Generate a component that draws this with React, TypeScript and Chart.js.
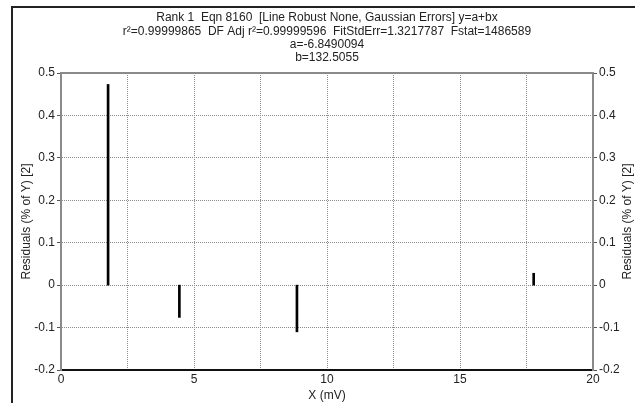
import React, { useEffect, useRef } from "react";
import { Chart, registerables } from "chart.js";

Chart.register(...registerables);

const xValues = [1.77, 4.45, 8.87, 17.77];
const residuals = [0.473, -0.076, -0.11, 0.028];
const titleLines = [
  "Rank 1  Eqn 8160  [Line Robust None, Gaussian Errors] y=a+bx",
  "r²=0.99999865  DF Adj r²=0.99999596  FitStdErr=1.3217787  Fstat=1486589",
  "a=-6.8490094",
  "b=132.5055",
];
const xTitle = "X (mV)";
const yTitle = "Residuals (% of Y) [2]";
const X_MIN = 0, X_MAX = 20, X_STEP = 2.5;
const Y_MIN = -0.2, Y_MAX = 0.5, Y_STEP = 0.1;

const FONT = "'Liberation Sans', Arial, sans-serif";
const TEXT = "#222";

const fmtY = (v: number) => String(Math.round(v * 10) / 10);

const decorPlugin = {
  id: "decor",
  beforeDraw(chart: any) {
    const ctx = chart.ctx;
    ctx.save();
    ctx.fillStyle = "#fff";
    ctx.fillRect(0, 0, chart.width, chart.height);
    ctx.restore();
  },
  afterDraw(chart: any) {
    const { ctx, chartArea } = chart;
    ctx.save();
    // outer frame
    ctx.strokeStyle = "#222";
    ctx.lineWidth = 2;
    ctx.beginPath();
    ctx.moveTo(12, chart.height);
    ctx.lineTo(12, 7);
    ctx.lineTo(635, 7);
    ctx.stroke();
    // top border of plot
    ctx.strokeStyle = "#8a8a8a";
    ctx.lineWidth = 2;
    ctx.beginPath();
    ctx.moveTo(chartArea.left, chartArea.top);
    ctx.lineTo(chartArea.right, chartArea.top);
    ctx.stroke();
    // title lines
    ctx.fillStyle = TEXT;
    ctx.font = `12px ${FONT}`;
    ctx.textAlign = "center";
    ctx.textBaseline = "middle";
    const cx = (chartArea.left + chartArea.right) / 2;
    const ys = [18, 31.5, 45, 58];
    titleLines.forEach((t, i) => ctx.fillText(t, cx, ys[i]));
    // axis titles (both bottom-to-top)
    const cy = (chartArea.top + chartArea.bottom) / 2;
    ctx.save();
    ctx.translate(27, cy);
    ctx.rotate(-Math.PI / 2);
    ctx.fillText(yTitle, 0, 0);
    ctx.restore();
    ctx.save();
    ctx.translate(628, cy);
    ctx.rotate(-Math.PI / 2);
    ctx.fillText(yTitle, 0, 0);
    ctx.restore();
    ctx.restore();
  },
};

export default function App() {
  const ref = useRef<HTMLCanvasElement>(null);
  useEffect(() => {
    if (!ref.current) return;
    const gridColor = (c: any) => {
      const v = c.tick ? c.tick.value : null;
      if (v === null) return "#999";
      if (Math.abs(v - Y_MIN) < 1e-9 || Math.abs(v - Y_MAX) < 1e-9) return "rgba(0,0,0,0)";
      return "#8c8c8c";
    };
    const xGridColor = (c: any) => {
      const v = c.tick ? c.tick.value : null;
      if (v === null) return "#999";
      if (Math.abs(v - X_MIN) < 1e-9 || Math.abs(v - X_MAX) < 1e-9) return "rgba(0,0,0,0)";
      return "#8c8c8c";
    };
    const chart = new Chart(ref.current, {
      type: "bar",
      data: {
        datasets: [
          {
            data: xValues.map((x, i) => ({ x, y: residuals[i] })),
            backgroundColor: "#000",
            borderWidth: 0,
            barThickness: 2,
            yAxisID: "y",
          },
        ],
      },
      plugins: [decorPlugin],
      options: {
        responsive: false,
        animation: false,
        events: [],
        layout: { padding: { top: 73, left: 0, right: 0, bottom: 0 } },
        plugins: { legend: { display: false }, tooltip: { enabled: false }, title: { display: false } },
        scales: {
          x: {
            type: "linear",
            min: X_MIN,
            max: X_MAX,
            offset: false,
            afterFit: (s: any) => { s.height = 33; },
            grid: { offset: false, color: xGridColor, drawTicks: false, lineWidth: 1 },
            border: { display: true, color: "#111", width: 2, dash: [1, 1] },
            ticks: {
              stepSize: X_STEP,
              autoSkip: false,
              maxRotation: 0,
              padding: 2,
              color: TEXT,
              font: { family: FONT, size: 12 },
              callback: (v: any) => (Math.abs(v % 5) < 1e-9 ? String(v) : ""),
            },
            title: { display: true, text: xTitle, color: TEXT, font: { family: FONT, size: 12 }, padding: { top: 0, bottom: 0 } },
          },
          y: {
            type: "linear",
            position: "left",
            min: Y_MIN,
            max: Y_MAX,
            afterFit: (s: any) => { s.width = 61; },
            grid: { color: gridColor, tickColor: "#555", tickLength: 4, lineWidth: 1 },
            border: { display: true, color: "#8a8a8a", width: 2, dash: [1, 1] },
            ticks: {
              stepSize: Y_STEP,
              autoSkip: false,
              padding: 2,
              color: TEXT,
              font: { family: FONT, size: 12 },
              callback: (v: any) => fmtY(v),
            },
          },
          y2: {
            type: "linear",
            position: "right",
            min: Y_MIN,
            max: Y_MAX,
            afterFit: (s: any) => { s.width = 46; },
            grid: { drawOnChartArea: false, tickColor: "#555", tickLength: 4 },
            border: { display: true, color: "#8a8a8a", width: 2 },
            ticks: {
              stepSize: Y_STEP,
              autoSkip: false,
              padding: 2,
              color: TEXT,
              font: { family: FONT, size: 12 },
              callback: (v: any) => fmtY(v),
            },
          },
        },
      },
    } as any);
    return () => chart.destroy();
  }, []);
  return (
    <div style={{ position: "absolute", left: 0, top: 0, width: 639, height: 403 }}>
      <canvas ref={ref} width={639} height={403} style={{ width: 639, height: 403 }} />
    </div>
  );
}
